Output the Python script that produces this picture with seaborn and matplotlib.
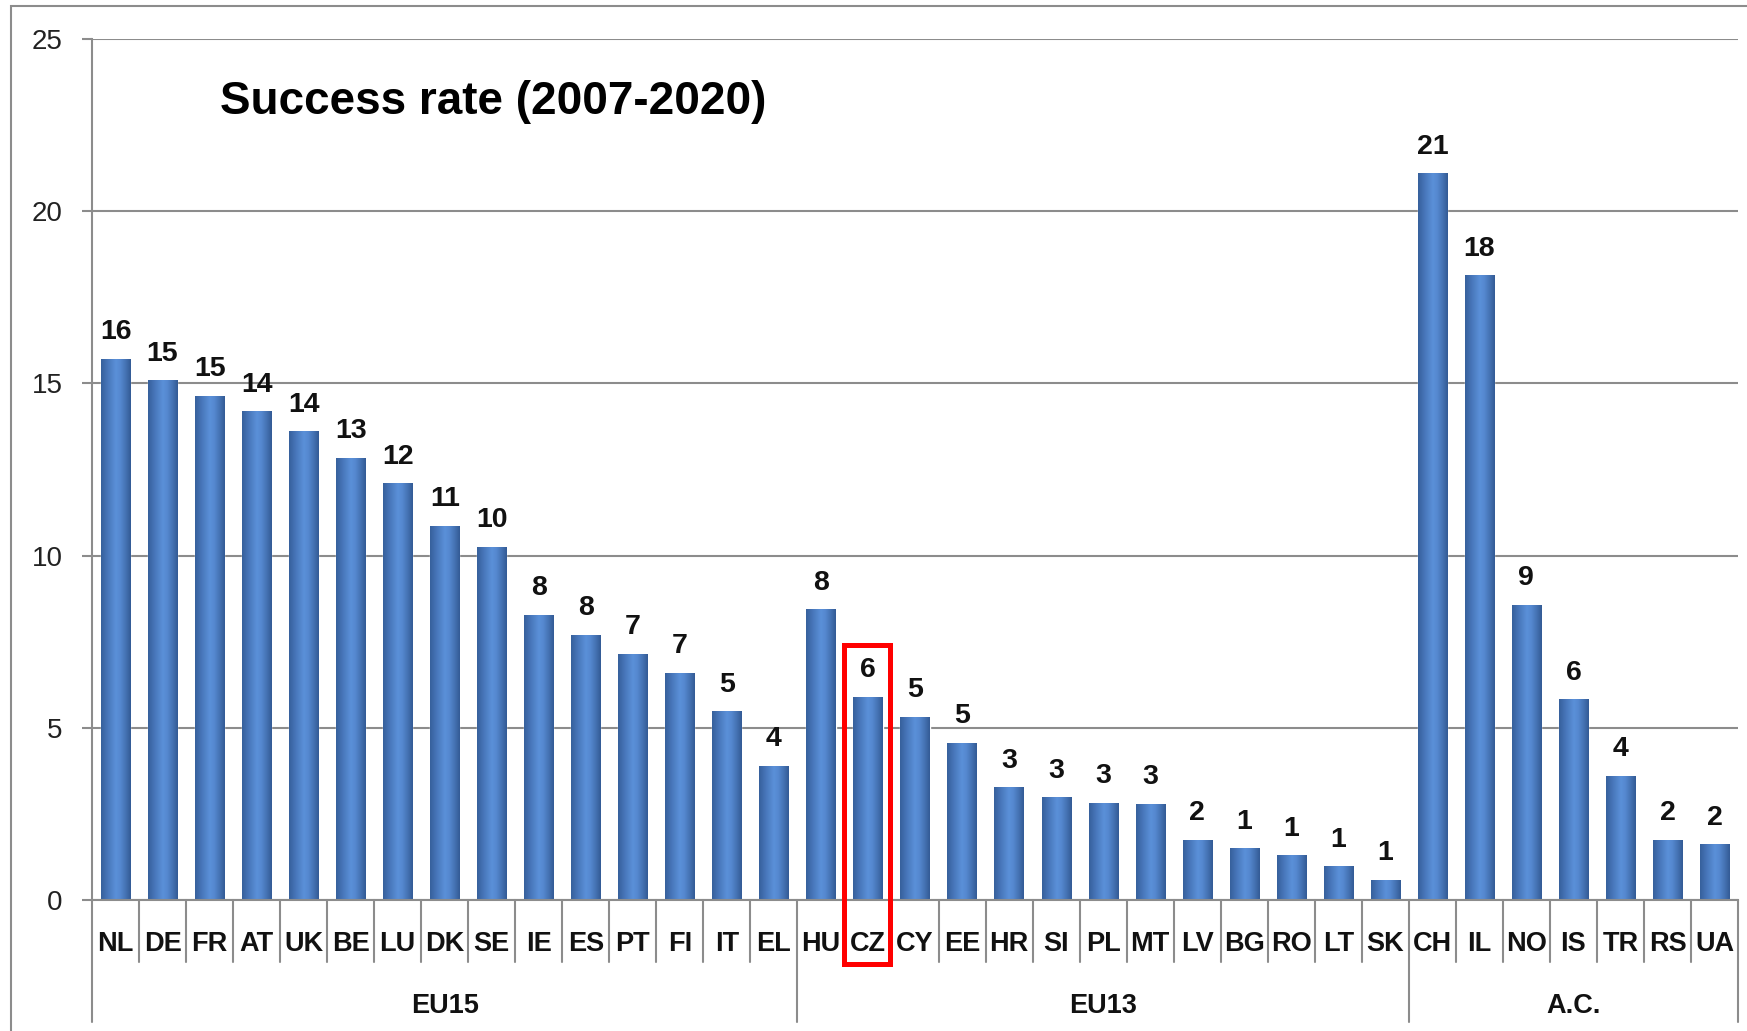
import matplotlib
matplotlib.use("Agg")
import matplotlib.pyplot as plt
import matplotlib.transforms as mtransforms
from matplotlib.patches import Rectangle
from matplotlib.colors import LinearSegmentedColormap
from matplotlib import font_manager as fm
import seaborn as sns
import numpy as np
import pandas as pd

# ---------------- data ----------------
countries = ["NL", "DE", "FR", "AT", "UK", "BE", "LU", "DK", "SE", "IE", "ES", "PT", "FI", "IT", "EL",
             "HU", "CZ", "CY", "EE", "HR", "SI", "PL", "MT", "LV", "BG", "RO", "LT", "SK",
             "CH", "IL", "NO", "IS", "TR", "RS", "UA"]
rates = [15.70, 15.08, 14.63, 14.18, 13.60, 12.82, 12.08, 10.85, 10.24, 8.27, 7.69, 7.14, 6.59, 5.46, 3.88,
         8.43, 5.88, 5.30, 4.55, 3.26, 2.97, 2.81, 2.78, 1.74, 1.49, 1.29, 0.97, 0.58,
         21.09, 18.12, 8.56, 5.81, 3.59, 1.74, 1.61]
value_labels = [16, 15, 15, 14, 14, 13, 12, 11, 10, 8, 8, 7, 7, 5, 4,
                8, 6, 5, 5, 3, 3, 3, 3, 2, 1, 1, 1, 1,
                21, 18, 9, 6, 4, 2, 2]
group_names = ["EU15", "EU13", "A.C."]
group_sizes = [15, 13, 7]
highlight = "CZ"
title = "Success rate (2007-2020)"
y_ticks = [0, 5, 10, 15, 20, 25]

# ---------------- style ----------------
sns.set_theme(style="white")
names = {f.name for f in fm.fontManager.ttflist}
narrow = "Liberation Sans Narrow" if "Liberation Sans Narrow" in names else (
    "DejaVu Sans Condensed" if "DejaVu Sans Condensed" in names else "Liberation Sans")
is_narrow = narrow != "Liberation Sans"
plt.rcParams["font.family"] = ["Liberation Sans", "DejaVu Sans"]

cat_fs = 22 if is_narrow else 19.5
title_fs = 39 if is_narrow else 33

W, H = 1747, 1031
fig = plt.figure(figsize=(W / 100, H / 100), dpi=100)
L, R, T, B = 92, 1738, 39, 900
ax = fig.add_axes([L / W, 1 - B / H, (R - L) / W, (B - T) / H])

df = pd.DataFrame({"country": countries, "rate": rates})
sns.barplot(data=df, x="country", y="rate", color="#4F81BD", saturation=1,
            width=0.62, ax=ax, zorder=2)

# cylinder-like gradient on bars
cmap = LinearSegmentedColormap.from_list(
    "cyl", [(0.0, "#36609C"), (0.2, "#4674B7"), (0.5, "#5B91D9"), (0.65, "#5588CF"),
            (0.85, "#4370B0"), (1.0, "#335B95")])
grad = np.linspace(0, 1, 64).reshape(1, -1)
for p in list(ax.patches):
    x0, w, h = p.get_x(), p.get_width(), p.get_height()
    ax.imshow(grad, extent=(x0, x0 + w, 0, h), aspect="auto", cmap=cmap,
              interpolation="bicubic", zorder=2.5)

n = len(countries)
ax.set_xlim(-0.5, n - 0.5)
ax.set_ylim(0, 25)
ax.set_yticks(y_ticks)
ax.set_yticklabels([str(t) for t in y_ticks], fontsize=20, color="#222222")
ax.set_xticks(range(n))
ax.set_xticklabels(countries, fontfamily=narrow, fontweight="bold", fontsize=cat_fs, color="#111111")
ax.set_xlabel("")
ax.set_ylabel("")

grid_col = "#8c8c8c"
ax.set_axisbelow(True)
ax.yaxis.grid(True, color=grid_col, lw=1.5, zorder=0.5)
ax.xaxis.grid(False)
for s in ["top", "right"]:
    ax.spines[s].set_visible(False)
for s in ["left", "bottom"]:
    ax.spines[s].set_color(grid_col)
    ax.spines[s].set_linewidth(1.5)
ax.tick_params(axis="y", length=7.5, width=1.5, color=grid_col, pad=13.5, left=True)
ax.tick_params(axis="x", length=0, pad=22)

# value labels
for i, (v, lab) in enumerate(zip(rates, value_labels)):
    ax.annotate(str(lab), (i, v), xytext=(0, 14.4), textcoords="offset points",
                ha="center", va="baseline", fontsize=20.5, fontweight="bold", color="#111111")

# category separators and group separators
trans = mtransforms.blended_transform_factory(ax.transData, ax.transAxes)
bounds = np.concatenate([[0], np.cumsum(group_sizes)]) - 0.5
for i in range(n - 1):
    xb = i + 0.5
    if xb in bounds:
        continue
    ax.plot([xb, xb], [0, -0.072], transform=trans, color=grid_col, lw=1.5, clip_on=False)
for xb in bounds:
    ax.plot([xb, xb], [0, -0.1415], transform=trans, color=grid_col, lw=1.5, clip_on=False)
for k, g in enumerate(group_names):
    xc = (bounds[k] + bounds[k + 1]) / 2
    ax.text(xc, -0.1075, g, transform=trans, ha="center", va="top", fontfamily=narrow,
            fontweight="bold", fontsize=cat_fs, color="#111111")

# highlight box around CZ
hi = countries.index(highlight)
ax.add_patch(Rectangle((hi - 0.5, -1.86), 0.97, 7.41 + 1.86, fill=False, ec="#FF0000",
                       lw=3.6, clip_on=False, zorder=6))

# title
ax.text(0.078, 0.927, title, transform=ax.transAxes, ha="left", va="center",
        fontfamily=narrow, fontweight="bold", fontsize=title_fs, color="#000000")

# outer frame
fig.add_artist(Rectangle((11 / W, -0.5), 2, 1.5 - 6 / H, transform=fig.transFigure,
                         fill=False, ec=grid_col, lw=1.5))

fig.savefig("out.png", dpi=100, facecolor="white")
